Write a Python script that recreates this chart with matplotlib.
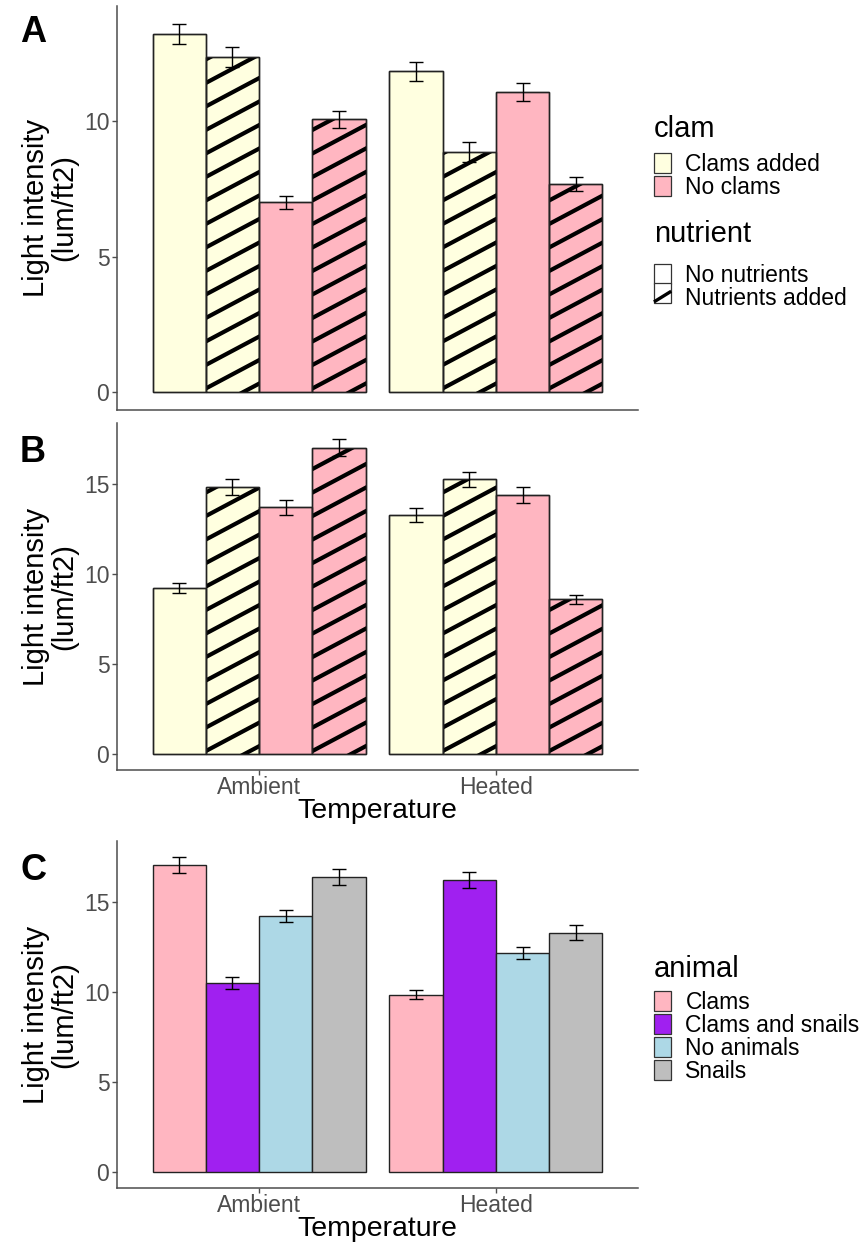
import numpy as np
import matplotlib
matplotlib.use("Agg")
import matplotlib.pyplot as plt
from matplotlib.patches import Patch, Rectangle
from matplotlib.lines import Line2D
from matplotlib.ticker import MultipleLocator

plt.rcParams['font.family'] = ['Liberation Sans', 'DejaVu Sans']

# ---- data ----
temps = ['Ambient', 'Heated']
clam_levels = ['Clams added', 'No clams']
nutrient_levels = ['No nutrients', 'Nutrients added']
animal_levels = ['Clams', 'Clams and snails', 'No animals', 'Snails']

# order inside each temperature group:
# clams added/no nutr, clams added/nutr, no clams/no nutr, no clams/nutr
a_means = [[13.22, 12.40, 7.00, 10.07], [11.85, 8.85, 11.10, 7.70]]
a_se = [[0.37, 0.37, 0.24, 0.30], [0.35, 0.37, 0.33, 0.26]]
b_means = [[9.23, 14.85, 13.72, 17.05], [13.29, 15.28, 14.42, 8.62]]
b_se = [[0.27, 0.44, 0.43, 0.49], [0.40, 0.43, 0.43, 0.25]]
# animal order: Clams, Clams and snails, No animals, Snails
c_means = [[17.03, 10.47, 14.19, 16.36], [9.85, 16.22, 12.17, 13.29]]
c_se = [[0.46, 0.33, 0.34, 0.44], [0.26, 0.45, 0.34, 0.40]]

clam_cols = {'Clams added': '#FFFFE0', 'No clams': '#FFB6C1'}
animal_cols = ['#FFB6C1', '#A020F0', '#ADD8E6', '#BEBEBE']

W, H = 868, 1249
fig = plt.figure(figsize=(W / 100, H / 100), dpi=100)

def px_axes(left, top, right, bottom):
    return fig.add_axes([left / W, 1 - bottom / H, (right - left) / W, (bottom - top) / H])

axA = px_axes(117, 6, 638, 410)
axB = px_axes(117, 423, 638, 770)
axC = px_axes(117, 841, 638, 1188)

dodge = 0.9
nb = 4
bw = dodge / nb
offsets = (np.arange(nb) - (nb - 1) / 2) * bw

def style(ax, ymax, show_x):
    ax.set_xlim(0.4, 2.6)
    ax.set_ylim(-0.05 * ymax, 1.05 * ymax)
    ax.yaxis.set_major_locator(MultipleLocator(5))
    for s in ['top', 'right']:
        ax.spines[s].set_visible(False)
    for s in ['left', 'bottom']:
        ax.spines[s].set_color('#4d4d4d')
        ax.spines[s].set_linewidth(1.1)
    ax.tick_params(colors='#4d4d4d', labelcolor='#4d4d4d', labelsize=16.5,
                   length=3.5, width=1, pad=2)
    ax.tick_params(axis='x', pad=1)
    ax.set_xticks([1, 2])
    if show_x:
        ax.set_xticklabels(temps)
        ax.set_xlabel('Temperature', fontsize=20.5, labelpad=-1)
    else:
        ax.tick_params(axis='x', length=0, labelbottom=False)
    ax.set_ylabel('Light intensity\n(lum/ft2)', fontsize=21, linespacing=1.0)
    ax.yaxis.set_label_coords(-0.075, 0.5)

def stripes(ax, bar, ax_w_px, ax_h_px):
    # shallow diagonal stripes clipped to a bar (pattern fill)
    x0, x1 = ax.get_xlim()
    y0, y1 = ax.get_ylim()
    sx = ax_w_px / (x1 - x0)
    sy = ax_h_px / (y1 - y0)
    bx0 = (bar.get_x() - x0) * sx
    bx1 = (bar.get_x() + bar.get_width() - x0) * sx
    by0 = (bar.get_y() - y0) * sy
    by1 = (bar.get_y() + bar.get_height() - y0) * sy
    slope = np.tan(np.radians(28))
    step = 23.5
    c = by0 - slope * (bx1 - bx0) - step + 8
    while c < by1 + step:
        xs = np.array([bx0 - 2, bx1 + 2])
        ys = c + slope * (xs - bx0)
        ln = Line2D(xs / sx + x0, ys / sy + y0, color='black', lw=3.0,
                    solid_capstyle='butt', zorder=3)
        ax.add_line(ln)
        ln.set_clip_path(bar)
        c += step

def panel_clam_nut(ax, means, se, show_x, box):
    means = np.array(means)
    se = np.array(se)
    ymax = (means + se).max()
    style(ax, ymax, show_x)
    ax_w_px = box[0]
    ax_h_px = box[1]
    for ti in range(len(temps)):
        for k in range(nb):
            clam = clam_levels[k // 2]
            hatched = (k % 2 == 1)
            x = ti + 1 + offsets[k]
            bar = ax.bar(x, means[ti, k], width=bw, color=clam_cols[clam],
                         edgecolor='#222222', linewidth=1.0, zorder=2)[0]
            if hatched:
                stripes(ax, bar, ax_w_px, ax_h_px)
            # redraw outline on top of stripes
            ax.bar(x, means[ti, k], width=bw, facecolor='none',
                   edgecolor='#222222', linewidth=1.0, zorder=4)
            ax.errorbar(x, means[ti, k], yerr=se[ti, k], color='black',
                        lw=1.0, capsize=4.7, capthick=1.0, zorder=5)

def panel_animal(ax, means, se):
    means = np.array(means)
    se = np.array(se)
    ymax = (means + se).max()
    style(ax, ymax, True)
    for ti in range(len(temps)):
        for k in range(nb):
            x = ti + 1 + offsets[k]
            ax.bar(x, means[ti, k], width=bw, color=animal_cols[k],
                   edgecolor='#222222', linewidth=1.0, zorder=2)
            ax.errorbar(x, means[ti, k], yerr=se[ti, k], color='black',
                        lw=1.0, capsize=4.7, capthick=1.0, zorder=5)

panel_clam_nut(axA, a_means, a_se, False, (521, 404))
panel_clam_nut(axB, b_means, b_se, True, (521, 347))
panel_animal(axC, c_means, c_se)

# panel letters
for lab, ypx in [('A', 33), ('B', 452), ('C', 870)]:
    fig.text(20 / W, 1 - ypx / H, lab, fontsize=26, fontweight='bold',
             ha='left', va='center')

# legends
class StripeKey:
    def legend_artist(self, legend, orig_handle, fontsize, handlebox):
        x0, y0 = handlebox.xdescent, handlebox.ydescent
        w, h = handlebox.width, handlebox.height
        tr = handlebox.get_transform()
        rect = Rectangle((x0, y0), w, h, facecolor='white', edgecolor='#333333',
                         lw=0.9, transform=tr)
        ln = Line2D([x0 + 1, x0 + w - 1], [y0 + 0.1 * h, y0 + 0.55 * h],
                    color='black', lw=2.4, transform=tr)
        handlebox.add_artist(rect)
        handlebox.add_artist(ln)
        return rect

class StripeHandle:
    pass

leg_kw = dict(frameon=False, loc='upper left', fontsize=16.5,
              handlelength=0.75, handleheight=0.95, labelspacing=0.0,
              handletextpad=0.62, borderpad=0, borderaxespad=0)

def legend_title(text, baseline_px):
    fig.text(654 / W, 1 - baseline_px / H, text, fontsize=21,
             ha='left', va='baseline')

legend_title('clam', 137)
clam_handles = [Patch(facecolor=clam_cols[c], edgecolor='#333333', lw=0.9)
                for c in clam_levels]
fig.legend(clam_handles, clam_levels,
           bbox_to_anchor=(654 / W, 1 - 153 / H), **leg_kw)

legend_title('nutrient', 242)
nut_handles = [Patch(facecolor='white', edgecolor='#333333', lw=0.9), StripeHandle()]
fig.legend(nut_handles, nutrient_levels,
           bbox_to_anchor=(654 / W, 1 - 264 / H),
           handler_map={StripeHandle: StripeKey()}, **leg_kw)

legend_title('animal', 977)
an_handles = [Patch(facecolor=c, edgecolor='#333333', lw=0.9) for c in animal_cols]
fig.legend(an_handles, animal_levels,
           bbox_to_anchor=(654 / W, 1 - 991 / H), **leg_kw)

fig.savefig('out.png', dpi=100, facecolor='white')
